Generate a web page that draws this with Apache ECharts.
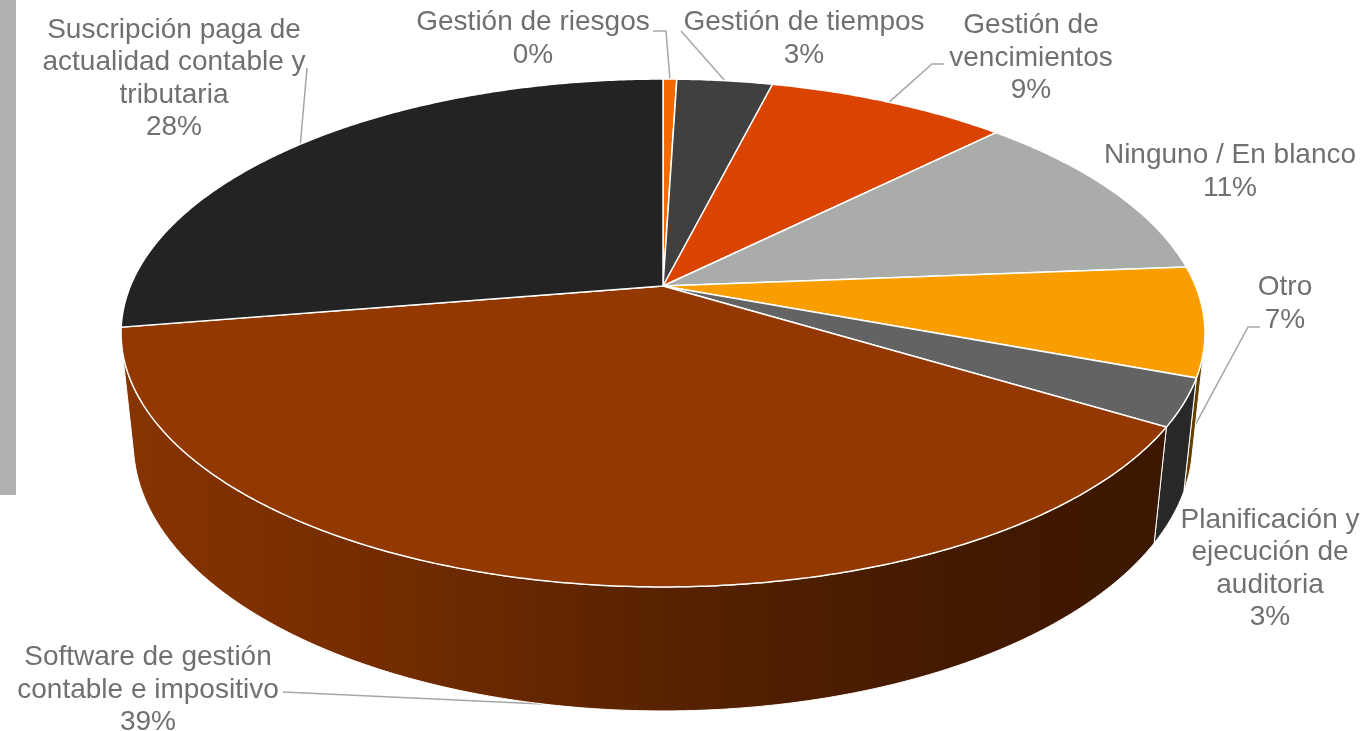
<!DOCTYPE html>
<html>
<head>
<meta charset="utf-8">
<script src="https://cdn.jsdelivr.net/npm/echarts@6/dist/echarts.min.js"></script>
<style>
  html, body { margin: 0; padding: 0; background: #fff; }
  #main { width: 1363px; height: 731px; }
</style>
</head>
<body>
<div id="main"></div>
<script>
// data (percent of answers)
const names = [
  'Gestión de riesgos',
  'Gestión de tiempos',
  'Gestión de\nvencimientos',
  'Ninguno / En blanco',
  'Otro',
  'Planificación y\nejecución de\nauditoria',
  'Software de gestión\ncontable e impositivo',
  'Suscripción paga de\nactualidad contable y\ntributaria'
];
const values = [0.49, 3.41, 8.6, 11.25, 6.95, 3.0, 38.7, 27.6];
const colors = ['#F56A00', '#404040', '#DA4400', '#AAACA9', '#FA9E00', '#636363', '#933800', '#232323'];

// label layout (centre of each text block) and leader line starts
const labelPos = [[533, 39], [804, 39], [1031, 58], [1230, 172], [1285, 304], [1270, 569], [148, 690], [174, 79]];
const leaderFrom = [
  [[653, 31], [666, 31]],
  [[681, 31]],
  [[944, 64], [932, 64]],
  null,
  [[1260, 327], [1248, 327]],
  null,
  [[283, 692]],
  [[307, 68]]
];
// where the leader ends: angle inside slice (0..1) and depth level (0 top, 1 bottom)
const leaderEnd = [[0.5, 0], [0.5, 0], [0.5, 0], null, [0.98, 0.5], null, [0.5, 1], [0.5, 0]];

// simple perspective camera for the 3d pie
const cx = 663, cy = 286, F = 2556, D = 4.26, H = 2.21, depthH = 0.234;
const L = Math.sqrt(D * D + H * H);
function project(X, Y, Z) {
  const py = Y + D, pz = Z - H;
  const dep = (D * py - H * pz) / L;
  const up = (H * py + D * pz) / L;
  return [cx + F * X / dep, cy - F * up / dep];
}
function rim(deg, z) {
  const r = deg * Math.PI / 180;
  return project(Math.sin(r), Math.cos(r), z);
}
const visFrom = Math.acos(-1 / D) * 180 / Math.PI;
const visTo = 360 - visFrom;

const total = values.reduce((a, b) => a + b, 0);
let acc = 0;
const sliceData = values.map(v => {
  const a0 = acc / total * 360;
  acc += v;
  return [a0, acc / total * 360];
});

function shade(hex, f) {
  const n = parseInt(hex.slice(1), 16);
  const r = Math.round(((n >> 16) & 255) * f);
  const g = Math.round(((n >> 8) & 255) * f);
  const b = Math.round((n & 255) * f);
  return 'rgb(' + r + ',' + g + ',' + b + ')';
}

function arc(a0, a1, z) {
  const pts = [];
  const n = Math.max(2, Math.ceil((a1 - a0) / 0.5));
  for (let i = 0; i <= n; i++) pts.push(rim(a0 + (a1 - a0) * i / n, z));
  return pts;
}

function renderTop(params, api) {
  const a0 = api.value(0), a1 = api.value(1);
  const pts = [project(0, 0, 0)].concat(arc(a0, a1, 0));
  return {
    type: 'polygon',
    shape: { points: pts },
    style: { fill: colors[params.dataIndex], stroke: '#ffffff', lineWidth: 1.5 }
  };
}

function renderWall(params, api) {
  const a0 = Math.max(api.value(0), visFrom), a1 = Math.min(api.value(1), visTo);
  if (a1 <= a0) return null;
  const pts = arc(a0, a1, 0).concat(arc(a0, a1, -depthH).reverse());
  const c = colors[params.dataIndex];
  return {
    type: 'polygon',
    shape: { points: pts },
    style: {
      fill: {
        type: 'linear', x: 120, y: 0, x2: 1206, y2: 0, global: true,
        colorStops: [
          { offset: 0, color: shade(c, 0.92) },
          { offset: 0.25, color: shade(c, 0.78) },
          { offset: 0.5, color: shade(c, 0.6) },
          { offset: 0.75, color: shade(c, 0.46) },
          { offset: 1, color: shade(c, 0.4) }
        ]
      },
      stroke: '#ffffff', lineWidth: 1
    }
  };
}

const graphics = [{
  type: 'rect', shape: { x: 0, y: 0, width: 16, height: 495 },
  style: { fill: '#B0B0B0' }, silent: true
}];
names.forEach((nm, i) => {
  const pct = Math.round(values[i] / total * 100);
  graphics.push({
    type: 'text', x: labelPos[i][0], y: labelPos[i][1], silent: true,
    style: {
      text: nm + '\n' + pct + '%',
      font: '28px "Liberation Sans", Arial, sans-serif',
      fill: '#707070', align: 'center', verticalAlign: 'middle', lineHeight: 32.5
    }
  });
  if (leaderFrom[i]) {
    const s = sliceData[i];
    const e = leaderEnd[i];
    const end = rim(s[0] + (s[1] - s[0]) * e[0], -depthH * e[1]);
    graphics.push({
      type: 'polyline', silent: true,
      shape: { points: leaderFrom[i].concat([end]) },
      style: { stroke: '#A6A6A6', lineWidth: 1.5, fill: null }
    });
  }
});

var myChart = echarts.init(document.getElementById('main'));
var option = {
  animation: false,
  backgroundColor: '#ffffff',
  graphic: graphics,
  series: [
    { type: 'custom', coordinateSystem: 'none', renderItem: renderWall, data: sliceData, z: 1, silent: true },
    { type: 'custom', coordinateSystem: 'none', renderItem: renderTop, data: sliceData, z: 2, silent: true }
  ]
};
myChart.setOption(option);
</script>
</body>
</html>
